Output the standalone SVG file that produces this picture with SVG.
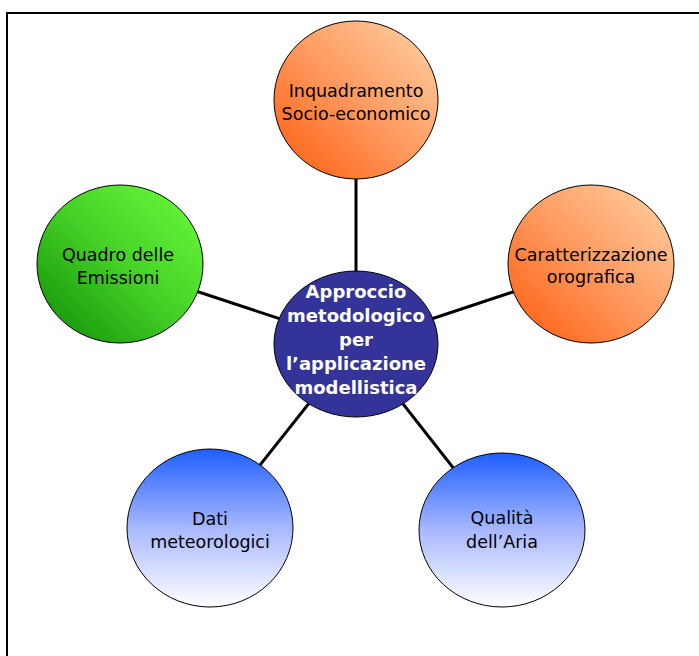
<svg xmlns="http://www.w3.org/2000/svg" width="699" height="656" viewBox="0 0 699 656">
  <style>
    .node { stroke: #000; stroke-width: 1; }
    .lbl { font-family: "DejaVu Sans", Verdana, sans-serif; font-size: 17.5px; fill: #000; text-anchor: middle; }
    .clbl { font-family: "DejaVu Sans", Verdana, sans-serif; font-size: 18px; font-weight: bold; fill: #fff; text-anchor: middle; }
    .conn { stroke: #000; stroke-width: 3; fill: none; }
  </style>
  <defs>
    <linearGradient id="gOrange" x1="0" y1="1" x2="1" y2="0">
      <stop offset="0" stop-color="#FF5A0A"/>
      <stop offset="0.5" stop-color="#FF9A60"/>
      <stop offset="1" stop-color="#FFD4A6"/>
    </linearGradient>
    <linearGradient id="gGreen" x1="0" y1="1" x2="1" y2="0">
      <stop offset="0" stop-color="#0E8A04"/>
      <stop offset="0.5" stop-color="#44D026"/>
      <stop offset="1" stop-color="#6CFF3C"/>
    </linearGradient>
    <linearGradient id="gBlue" x1="0" y1="0" x2="0" y2="1">
      <stop offset="0" stop-color="#1E5EFF"/>
      <stop offset="0.5" stop-color="#A8B8FF"/>
      <stop offset="1" stop-color="#FFFFFF"/>
    </linearGradient>
  </defs>
  <rect width="699" height="656" fill="#fff"/>
  <path d="M7,660 V13 H702" fill="none" stroke="#000" stroke-width="2"/>

  <g id="connectors">
    <line class="conn" x1="356" y1="344" x2="356" y2="100"/>
    <line class="conn" x1="356" y1="344" x2="120" y2="266"/>
    <line class="conn" x1="356" y1="344" x2="591" y2="266"/>
    <line class="conn" x1="356" y1="344" x2="210" y2="528"/>
    <line class="conn" x1="356" y1="344" x2="502" y2="530"/>
  </g>

  <g id="node-inquadramento">
    <ellipse class="node" cx="356" cy="100" rx="82" ry="79" fill="url(#gOrange)"/>
    <text class="lbl" x="356" y="97">Inquadramento</text>
    <text class="lbl" x="356" y="120">Socio-economico</text>
  </g>

  <g id="node-emissioni">
    <ellipse class="node" cx="120" cy="264" rx="83" ry="79" fill="url(#gGreen)"/>
    <text class="lbl" x="118" y="261">Quadro delle</text>
    <text class="lbl" x="118" y="284">Emissioni</text>
  </g>

  <g id="node-orografica">
    <ellipse class="node" cx="591" cy="264" rx="83" ry="79" fill="url(#gOrange)"/>
    <text class="lbl" x="591" y="261">Caratterizzazione</text>
    <text class="lbl" x="591" y="283">orografica</text>
  </g>

  <g id="node-meteo">
    <ellipse class="node" cx="210" cy="528" rx="83" ry="79" fill="url(#gBlue)"/>
    <text class="lbl" x="210" y="525">Dati</text>
    <text class="lbl" x="210" y="548">meteorologici</text>
  </g>

  <g id="node-aria">
    <ellipse class="node" cx="502" cy="530" rx="83" ry="77" fill="url(#gBlue)"/>
    <text class="lbl" x="502" y="524">Qualità</text>
    <text class="lbl" x="502" y="548">dell’Aria</text>
  </g>

  <g id="node-center">
    <ellipse class="node" cx="356" cy="344" rx="82" ry="73" fill="#333399"/>
    <text class="clbl" x="356" y="298">Approccio</text>
    <text class="clbl" x="356" y="322">metodologico</text>
    <text class="clbl" x="356" y="346">per</text>
    <text class="clbl" x="356" y="370">l’applicazione</text>
    <text class="clbl" x="356" y="394">modellistica</text>
  </g>
</svg>
